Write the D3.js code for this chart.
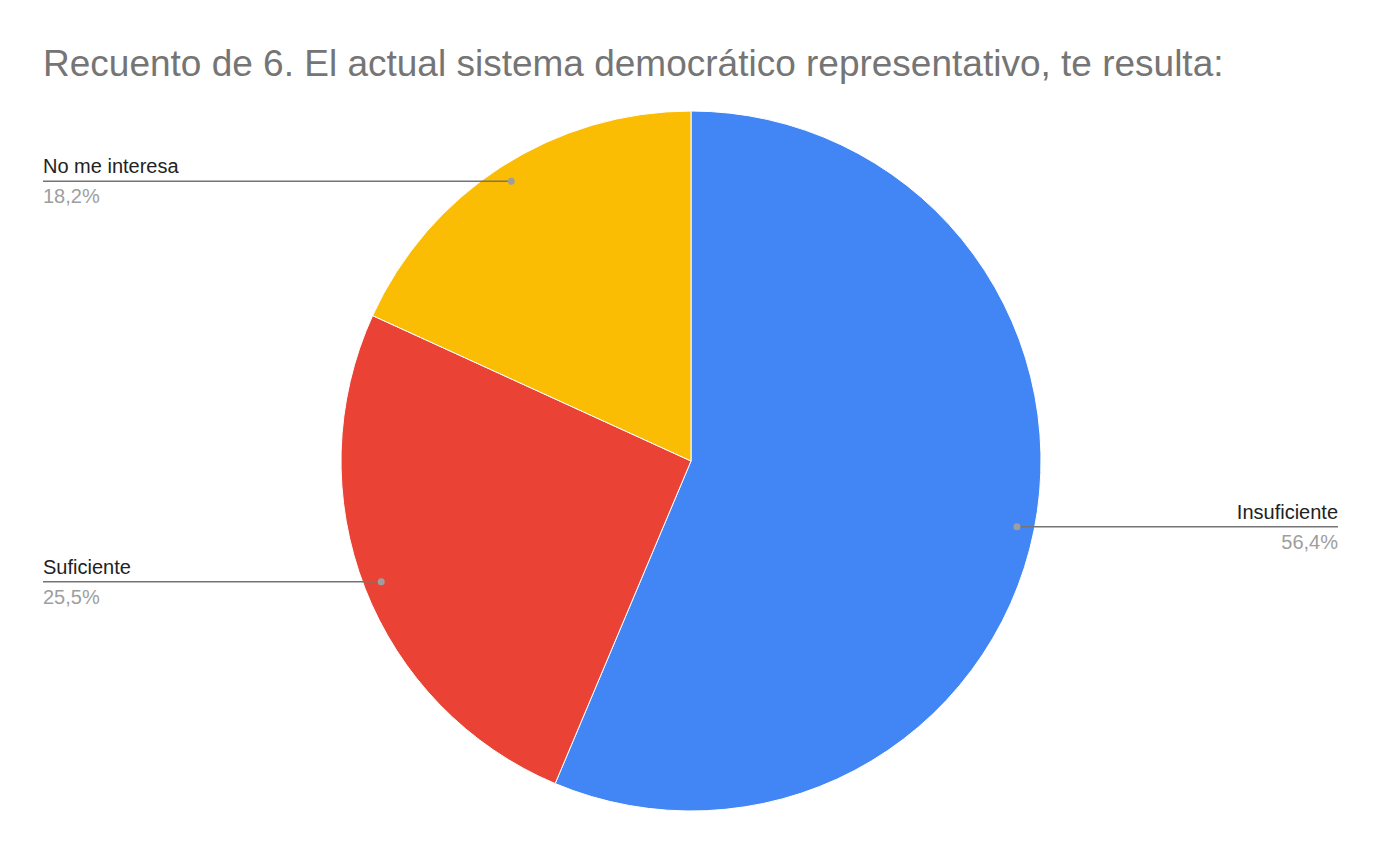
<!DOCTYPE html>
<html lang="en">
<head>
<meta charset="utf-8">
<script src="https://cdnjs.cloudflare.com/ajax/libs/d3/7.8.5/d3.min.js"></script>
<style>
  body { margin: 0; background: #fff; }
  text { font-family: "Liberation Sans", Arial, sans-serif; }
</style>
</head>
<body>
<svg id="chart" width="1382" height="854"></svg>
<script>
    const categories = ["Insuficiente", "Suficiente", "No me interesa"];
    const values = [56.4, 25.5, 18.2];
    const labels = ["56,4%", "25,5%", "18,2%"];
    const colors = ["#4285f4", "#ea4335", "#fbbc04"];

    const svg = d3.select("#chart");
    const cx = 691, cy = 461, radius = 350;

    svg.append("text")
        .attr("x", 43).attr("y", 76)
        .attr("font-size", 37)
        .attr("fill", "#757575")
        .text("Recuento de 6. El actual sistema democrático representativo, te resulta:");

    const pie = d3.pie().sort(null).value(d => d)(values);
    const arc = d3.arc().innerRadius(0).outerRadius(radius);
    const g = svg.append("g").attr("transform", "translate(" + cx + "," + cy + ")");

    g.selectAll("path")
        .data(pie)
        .enter().append("path")
        .attr("d", arc)
        .attr("fill", (d, i) => colors[i])
        .attr("stroke", "#fff")
        .attr("stroke-width", 1);

    // leader lines and labels
    const labelArc = d3.arc().innerRadius(radius * 0.95).outerRadius(radius * 0.95);
    pie.forEach(function(d, i) {
        const c = labelArc.centroid(d);
        const px = cx + c[0], py = cy + c[1];
        const right = c[0] > 0;
        const endX = right ? 1338 : 43;
        svg.append("line")
            .attr("x1", px).attr("y1", py)
            .attr("x2", endX).attr("y2", py)
            .attr("stroke", "#757575").attr("stroke-width", 1.5);
        svg.append("circle")
            .attr("cx", px).attr("cy", py).attr("r", 3.5)
            .attr("fill", "#9e9e9e");
        const anchor = right ? "end" : "start";
        svg.append("text")
            .attr("x", endX).attr("y", py - 8)
            .attr("text-anchor", anchor)
            .attr("font-size", 20).attr("fill", "#222")
            .text(categories[i]);
        svg.append("text")
            .attr("x", endX).attr("y", py + 22)
            .attr("text-anchor", anchor)
            .attr("font-size", 20).attr("fill", "#9e9e9e")
            .text(labels[i]);
    });
</script>
</body>
</html>
